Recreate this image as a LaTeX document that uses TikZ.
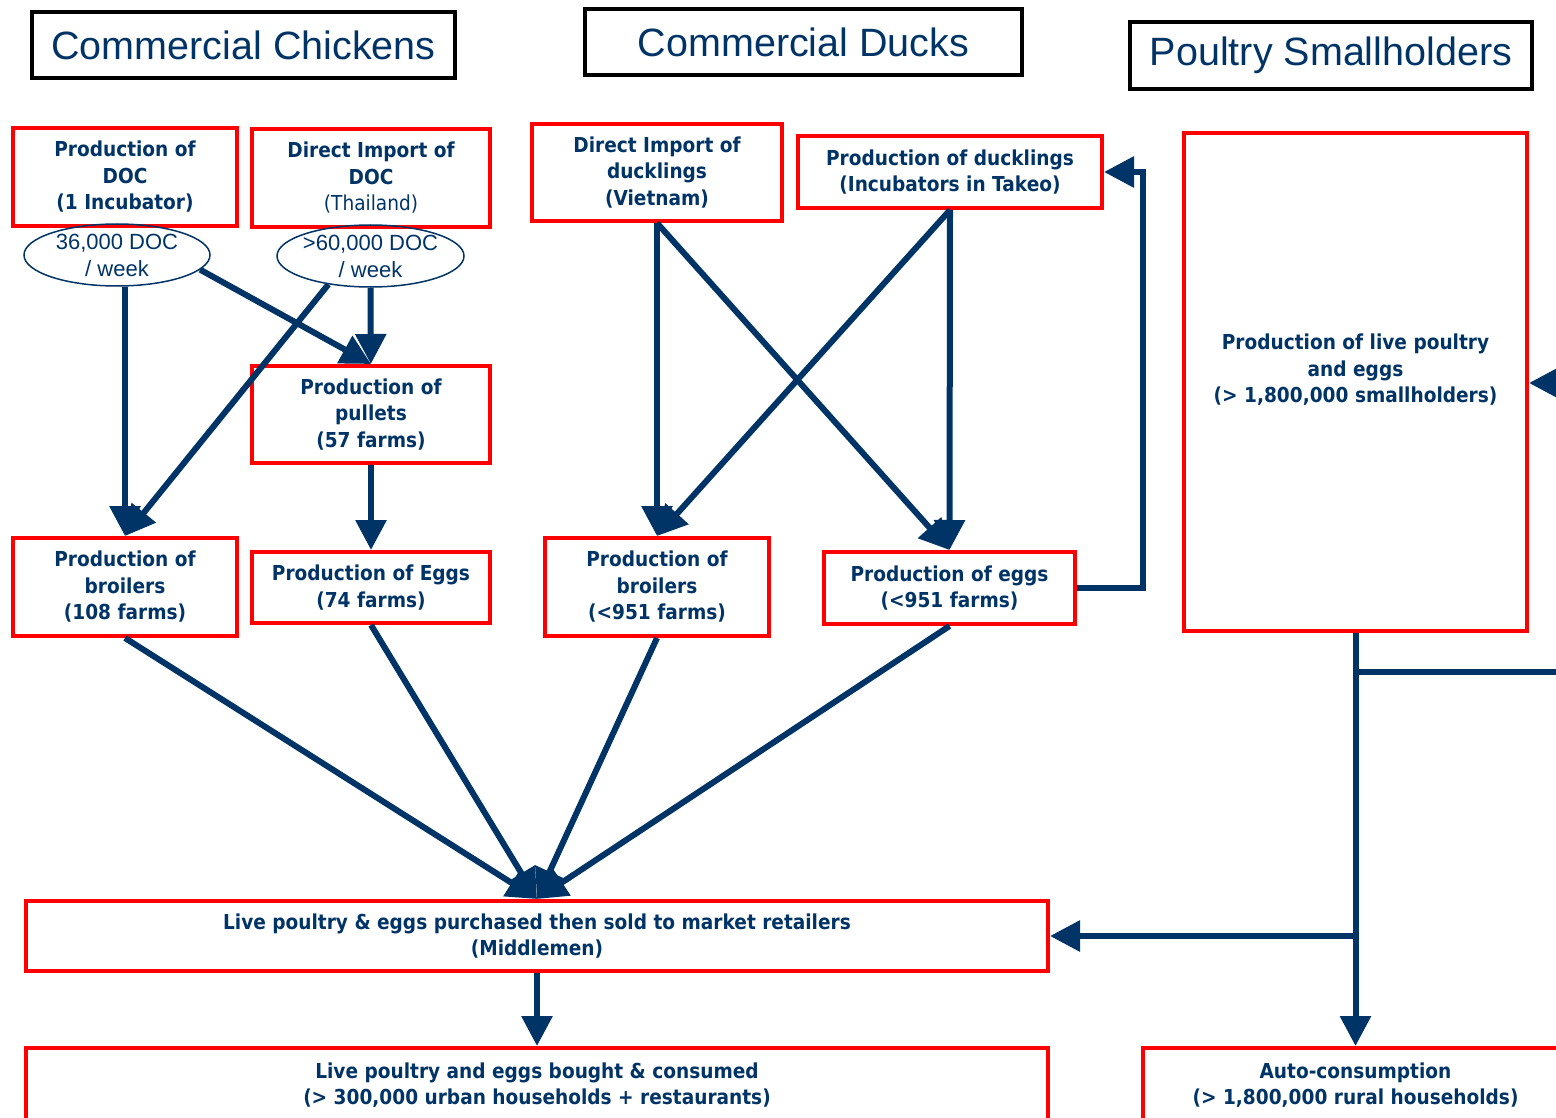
\documentclass[tikz,border=0pt]{standalone}
\usepackage{fontspec}
\usetikzlibrary{arrows.meta, shapes.geometric}
\newfontfamily\boxfamily{DejaVu Sans}[FakeStretch=0.9]
\newfontfamily\headfamily{Liberation Sans}
\definecolor{flowblue}{RGB}{0,51,102}

\begin{document}
\begin{tikzpicture}[
      x=1pt, y=-1pt,
      header/.style={
        draw=black,
        line width=4pt,
        inner sep=0pt,
        minimum height=66pt,
        text=flowblue,
        font=\headfamily\fontsize{39.5}{45}\selectfont
      },
      block/.style={
        draw=red,
        line width=4pt,
        inner sep=0pt,
        align=center,
        text=flowblue,
        font=\boxfamily\bfseries\fontsize{20.6}{26.5}\selectfont
      },
      rate/.style={
        ellipse,
        draw=flowblue,
        line width=1.5pt,
        inner sep=-8pt,
        minimum width=186pt,
        minimum height=62pt,
        align=center,
        text=flowblue,
        font=\headfamily\fontsize{22}{27}\selectfont
      },
      arrow/.style={-{Triangle[length=30pt, width=30pt]}, line width=6pt, flowblue},
      branch/.style={line width=6pt, flowblue}
    ]
    \useasboundingbox (0,0) rectangle (1556,1118);
    \clip (0,0) rectangle (1556,1118);

    % Headers
    \node [header, minimum width=423pt] (chickens) at (243.5,45) {Commercial Chickens};
    \node [header, minimum width=437pt] (ducks) at (803.5,42) {Commercial Ducks};
    \node [header, minimum width=402pt, minimum height=67pt] (smallholders) at (1331,55.5) {Poultry Smallholders};

    % Chicken chain
    \node [block, minimum width=224pt, minimum height=98pt] (docprod) at (125,177) {Production of\\DOC\\(1 Incubator)};
    \node [block, minimum width=238pt, minimum height=98pt] (docimport) at (371,178) {Direct Import of\\DOC\\{\mdseries(Thailand)}};
    \node [rate] (docweek) at (117,255) {36,000 DOC\\/ week};
    \node [rate, minimum width=187pt] (importweek) at (370.5,256) {>60,000 DOC\\/ week};
    \node [block, minimum width=238pt, minimum height=97pt] (pullets) at (371,414.5) {Production of\\pullets\\(57 farms)};
    \node [block, minimum width=224pt, minimum height=98pt] (chickbroil) at (125,587) {Production of\\broilers\\(108 farms)};
    \node [block, minimum width=238pt, minimum height=71pt] (chickeggs) at (371,587.5) {Production of Eggs\\(74 farms)};

    % Duck chain
    \node [block, minimum width=250pt, minimum height=97pt] (duckimport) at (657,172.5) {Direct Import of\\ducklings\\(Vietnam)};
    \node [block, minimum width=304pt, minimum height=72pt] (duckprod) at (950,172) {Production of ducklings\\(Incubators in Takeo)};
    \node [block, minimum width=224pt, minimum height=98pt] (duckbroil) at (657,587) {Production of\\broilers\\(<951 farms)};
    \node [block, minimum width=251pt, minimum height=72pt] (duckeggs) at (949.5,588) {Production of eggs\\(<951 farms)};

    % Smallholders and market
    \node [block, minimum width=343pt, minimum height=498pt,
      label={[block, draw=none, yshift=12pt]center:{Production of live poultry\\and eggs\\(> 1,800,000 smallholders)}}] (village) at (1355.5,382) {};
    \node [block, minimum width=1022pt, minimum height=70pt] (middlemen) at (537,936) {Live poultry \& eggs purchased then sold to market retailers\\(Middlemen)};
    \node [block, minimum width=1022pt, minimum height=74pt] (urban) at (537,1085) {Live poultry and eggs bought \& consumed\\(> 300,000 urban households + restaurants)};
    \node [block, minimum width=426pt, minimum height=74pt] (rural) at (1355.5,1085) {Auto-consumption\\(> 1,800,000 rural households)};

    \coordinate (offin) at (1600,383);
    \coordinate (offout) at (1600,672);

    % Chicken arrows
    \draw [arrow] (chickbroil.north |- docweek.south) -- (chickbroil.north);
    \draw [arrow] (docweek.-10) -- (pullets.north);
    \draw [arrow] (importweek) -- (pullets);
    \draw [arrow] (importweek.214) -- (chickbroil.north);
    \draw [arrow] (pullets) -- (chickeggs);

    % Duck arrows
    \draw [arrow] (duckimport.south) -- (duckbroil.north);
    \draw [arrow] (duckimport.south) -- (duckeggs.north);
    \draw [arrow] (duckprod.south) -- (duckeggs.north);
    \draw [arrow] (duckprod.south) -- (duckbroil.north);
    \draw [arrow] (duckeggs.east) -- ++(66,0) |- (duckprod.east);

    % Everything goes to the middlemen
    \draw [arrow] (chickbroil.south) -- (middlemen.north);
    \draw [arrow] (chickeggs.south) -- (middlemen.north);
    \draw [arrow] (duckbroil.south) -- (middlemen.north);
    \draw [arrow] (duckeggs.south) -- (middlemen.north);
    \draw [arrow] (middlemen) -- (urban);

    % Smallholder outlets
    \draw [arrow] (village) -- (rural);
    \draw [arrow] (village.south |- middlemen.east) -- (middlemen.east);
    \draw [branch] (village.south |- offout) -- (offout);
    \draw [arrow] (offin) -- (village.east |- offin);
  \end{tikzpicture}
\end{document}
